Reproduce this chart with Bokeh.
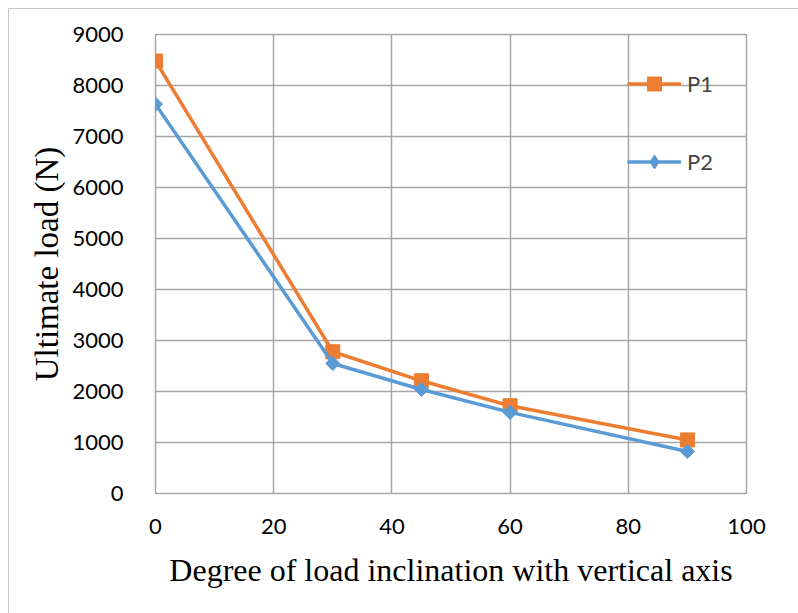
import math
from bokeh.plotting import figure
from bokeh.models import Legend, LegendItem, FixedTicker
from bokeh.embed import file_html
from bokeh.resources import INLINE

# data
angle = [0, 30, 45, 60, 90]
p1 = [8480, 2780, 2210, 1720, 1050]
p2 = [7635, 2550, 2040, 1590, 825]
x_ticks = [0, 20, 40, 60, 80, 100]
y_ticks = [0, 1000, 2000, 3000, 4000, 5000, 6000, 7000, 8000, 9000]

ORANGE = "#ED7D31"
BLUE = "#5B9BD5"
GRID = "#a6a6a6"

p = figure(width=790, height=605, output_backend="svg", toolbar_location=None,
           x_range=(0, 100), y_range=(0, 9000),
           margin=(8, 0, 0, 8),
           min_border_left=146, min_border_right=53, min_border_top=25, min_border_bottom=121)
p.styles = {"border-left": "1.5px solid #c8c8c8", "border-top": "1.5px solid #c8c8c8"}
p.background_fill_color = "white"
p.border_fill_color = "white"
p.outline_line_color = GRID
p.outline_line_width = 1.5

p.xaxis.ticker = FixedTicker(ticks=x_ticks)
p.yaxis.ticker = FixedTicker(ticks=y_ticks)
for ax in (p.xaxis, p.yaxis):
    ax.axis_line_color = None
    ax.major_tick_line_color = None
    ax.minor_tick_line_color = None
    ax.major_label_text_font = "Lato"
    ax.major_label_text_font_size = "22px"
    ax.major_label_text_color = "black"
    ax.axis_label_text_font = "Liberation Serif"
    ax.axis_label_text_font_style = "normal"
    ax.axis_label_text_color = "black"

p.xaxis.axis_label = "Degree of load inclination with vertical axis"
p.xaxis.axis_label_text_font_size = "32px"
p.xaxis.major_label_standoff = 19
p.xaxis.axis_label_standoff = 15
p.yaxis.axis_label = "Ultimate load (N)"
p.yaxis.axis_label_text_font_size = "33px"
p.yaxis.major_label_standoff = 26
p.yaxis.axis_label_standoff = 4

p.grid.grid_line_color = GRID
p.grid.grid_line_width = 1.5

l1 = p.line(angle, p1, line_color=ORANGE, line_width=3.5)
s1 = p.scatter(angle, p1, marker="square", size=14, fill_color=ORANGE, line_color=ORANGE)
l2 = p.line(angle, p2, line_color=BLUE, line_width=3.5)
s2 = p.scatter(angle, p2, marker="square", size=10, angle=math.pi / 4,
               fill_color=BLUE, line_color=BLUE)
# legend-only diamond (no visible points)
s2_leg = p.scatter([float("nan")], [float("nan")], marker="diamond", size=14,
                   fill_color=BLUE, line_color=BLUE)

legend = Legend(items=[LegendItem(label="P1", renderers=[l1, s1]),
                       LegendItem(label="P2", renderers=[l2, s2_leg])],
                location=(472, 314), orientation="vertical",
                glyph_width=54, glyph_height=35, spacing=43, padding=0, margin=0,
                label_standoff=6, label_text_font="Lato", label_text_font_size="22px",
                background_fill_alpha=0, border_line_color=None)
p.add_layout(legend, "center")

open("out.html", "w").write(file_html(p, INLINE))
